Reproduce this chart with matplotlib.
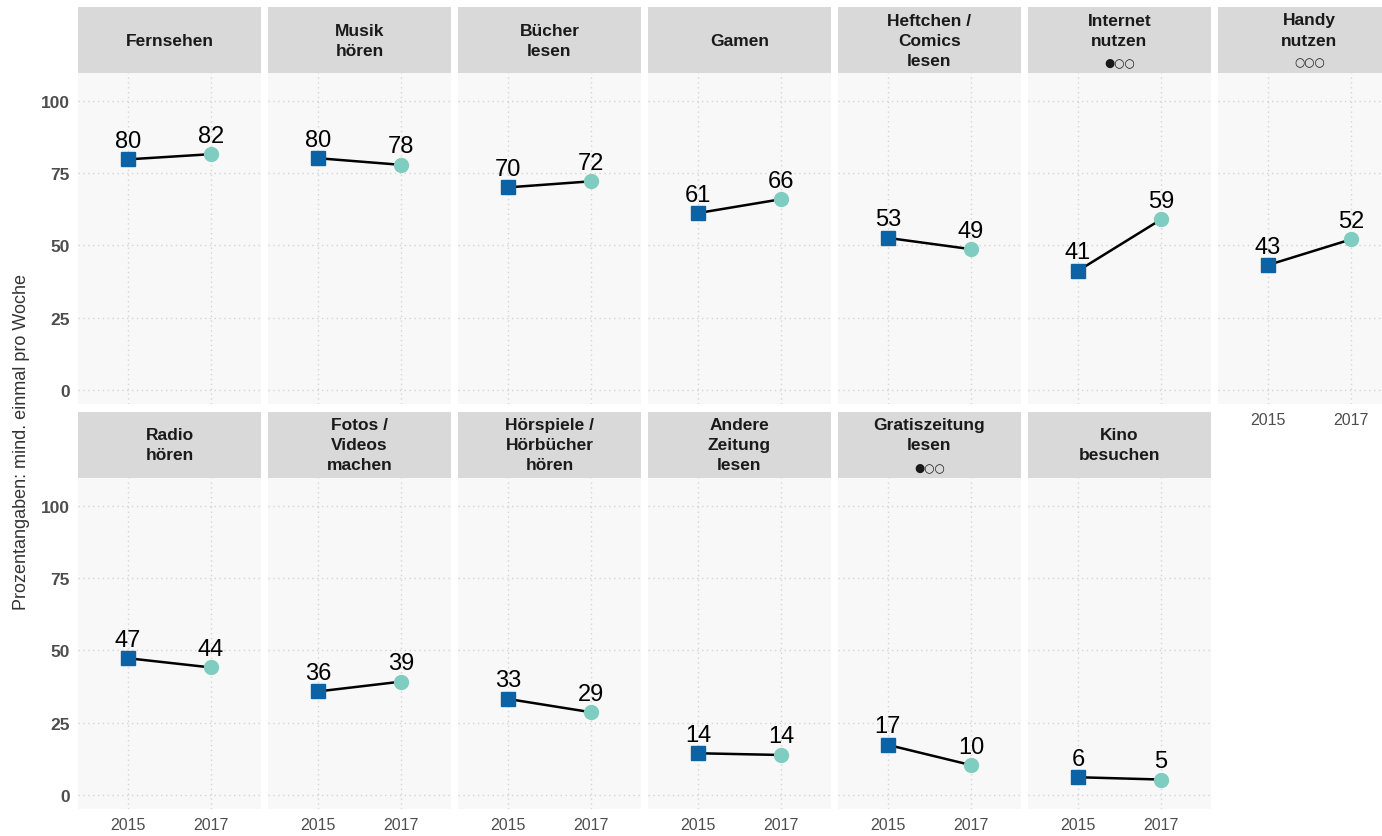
import numpy as np
import matplotlib
matplotlib.use('Agg')
import matplotlib.pyplot as plt

plt.rcParams['font.family'] = ['Liberation Sans', 'DejaVu Sans']

years = ['2015', '2017']
labels = [['Fernsehen'], ['Musik', 'hören'], ['Bücher', 'lesen'], ['Gamen'],
          ['Heftchen /', 'Comics', 'lesen'], ['Internet', 'nutzen'], ['Handy', 'nutzen'],
          ['Radio', 'hören'], ['Fotos /', 'Videos', 'machen'], ['Hörspiele /', 'Hörbücher', 'hören'],
          ['Andere', 'Zeitung', 'lesen'], ['Gratiszeitung', 'lesen'], ['Kino', 'besuchen']]
dots = ['', '', '', '', '', '●○○', '○○○', '', '', '', '', '●○○', '']
v2015 = [79.8, 80.2, 70.1, 61.2, 52.6, 41.2, 43.2, 47.3, 35.8, 33.2, 14.4, 17.3, 6.1]
v2017 = [81.6, 77.9, 72.2, 66.0, 48.7, 59.0, 52.1, 44.1, 39.2, 28.6, 13.8, 10.3, 5.3]
shown2015 = [80, 80, 70, 61, 53, 41, 43, 47, 36, 33, 14, 17, 6]
shown2017 = [82, 78, 72, 66, 49, 59, 52, 44, 39, 29, 14, 10, 5]
yticks = [0, 25, 50, 75, 100]

W, H = 1382, 837
fig = plt.figure(figsize=(W / 100, H / 100), dpi=100)

col_left = [78 + c * 190 for c in range(7)]
pw = 183
rows = [(8, 74, 405), (413, 479, 810)]  # strip top, panel top, panel bottom

c_sq = '#0b62a4'
c_ci = '#7fcdc1'

for i in range(len(labels)):
    r, c = divmod(i, 7)
    st, pt, pb = rows[r]
    x0 = col_left[c]
    ax = fig.add_axes([x0 / W, (H - pb) / H, pw / W, (pb - pt) / H])
    ax.set_facecolor('#f8f8f8')
    ax.set_xlim(0.4, 2.6)
    ax.set_ylim(-4.9, 109.7)
    ax.set_xticks([1, 2])
    ax.set_yticks(yticks)
    ax.grid(True, color='#d4d4d4', linestyle=(0, (1, 2.5)), linewidth=1)
    ax.set_axisbelow(True)
    for s in ax.spines.values():
        s.set_visible(False)
    ax.tick_params(length=0, pad=6)
    if c == 0:
        ax.set_yticklabels([str(t) for t in yticks], fontsize=12.5, fontweight='bold', color='#4d4d4d')
    else:
        ax.set_yticklabels([])
    if r == 1 or i == 6:
        ax.set_xticklabels(years, fontsize=11.5, color='#4d4d4d')
    else:
        ax.set_xticklabels([])

    ax.plot([1, 2], [v2015[i], v2017[i]], color='black', linewidth=1.8, zorder=3)
    ax.plot(1, v2015[i], marker='s', markersize=10, color=c_sq, zorder=4, linestyle='none')
    ax.plot(2, v2017[i], marker='o', markersize=10, color=c_ci, zorder=4, linestyle='none')
    ax.annotate(str(shown2015[i]), (1, v2015[i]), xytext=(0, 9), textcoords='offset points',
                ha='center', va='baseline', fontsize=17, color='black', zorder=5)
    ax.annotate(str(shown2017[i]), (2, v2017[i]), xytext=(0, 9), textcoords='offset points',
                ha='center', va='baseline', fontsize=17, color='black', zorder=5)

    # strip
    sa = fig.add_axes([x0 / W, (H - pt) / H, pw / W, (pt - st) / H])
    sa.set_facecolor('#d9d9d9')
    sa.set_xticks([])
    sa.set_yticks([])
    for s in sa.spines.values():
        s.set_visible(False)
    lines = list(labels[i])
    if dots[i]:
        lines.append(dots[i])
    n = len(lines)
    sh = pt - st
    for k, txt in enumerate(lines):
        yy = 0.5 - (k - (n - 1) / 2) * 20 / sh
        if dots[i] and k == n - 1:
            sa.text(0.5, yy - 0.02, txt, transform=sa.transAxes, ha='center', va='center',
                    fontsize=8.5, color='#1a1a1a', family=['DejaVu Sans'])
        else:
            sa.text(0.5, yy, txt, transform=sa.transAxes, ha='center', va='center',
                    fontsize=12.5, fontweight='bold', color='#1a1a1a')

fig.text(22 / W, 1 - 442 / H, 'Prozentangaben: mind. einmal pro Woche', rotation=90,
         ha='center', va='center', fontsize=13, color='#333333')

fig.savefig('out.png', dpi=100)
